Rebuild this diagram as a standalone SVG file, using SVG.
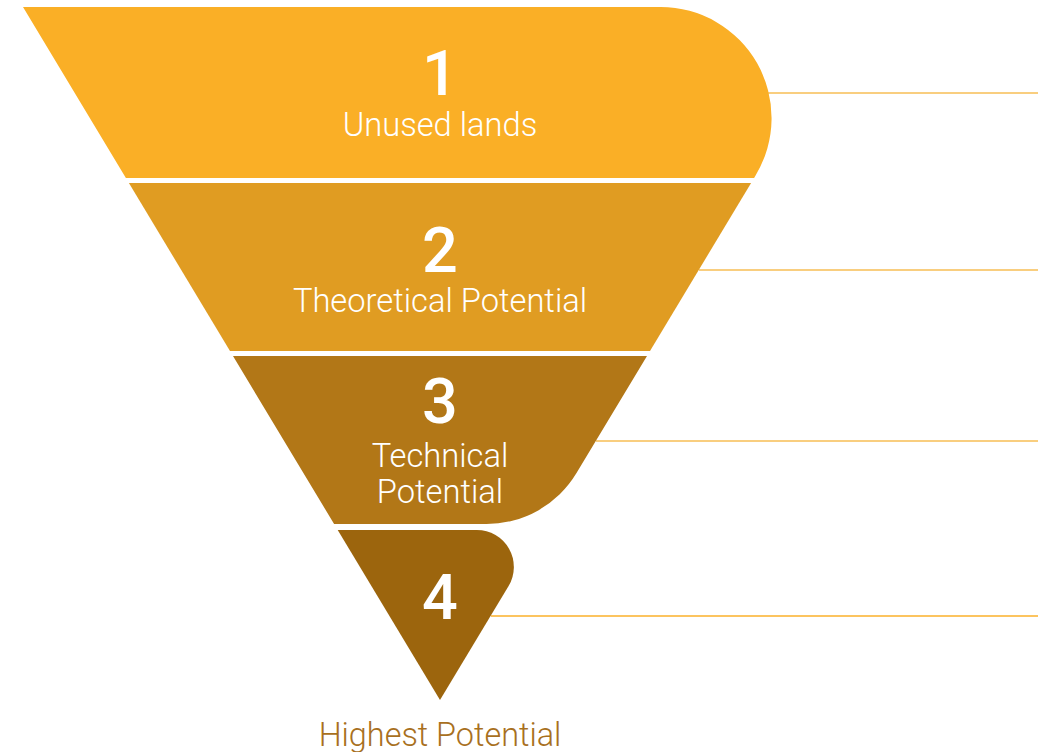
<svg xmlns="http://www.w3.org/2000/svg" width="1038" height="752" viewBox="0 0 1038 752">
<style>
.num{font-family:Roboto,"Liberation Sans",sans-serif;font-weight:500;font-size:63px;fill:#fff;text-anchor:middle}
.lbl{font-family:Roboto,"Liberation Sans",sans-serif;font-weight:300;font-size:32.7px;fill:#fff;text-anchor:middle}
.foot{font-family:Roboto,"Liberation Sans",sans-serif;font-weight:300;font-size:32.4px;fill:#A8701E;text-anchor:middle}
.ln{stroke:#F7BE55;stroke-width:1.4;fill:none}
</style>
<rect width="1038" height="752" fill="#fff"/>
<g id="connectors">
<line class="ln" x1="768" y1="93" x2="1038" y2="93"/>
<line class="ln" x1="699" y1="270" x2="1038" y2="270"/>
<line class="ln" x1="596" y1="441" x2="1038" y2="441"/>
<line class="ln" x1="491" y1="616" x2="1038" y2="616" style="stroke:#FBB02A"/>
</g>
<g id="node1">
<path d="M23,7 L660.6,7 A111,111 0 0 1 755.7,175.2 L754.1,178 L125.9,178 Z" fill="#FAAF26"/>
<text class="num" x="440" y="95">1</text>
<text class="lbl" x="440" y="136">Unused lands</text>
</g>
<g id="node2">
<path d="M128.9,183 L751.1,183 L650,351 L230,351 Z" fill="#E09C22"/>
<text class="num" x="440" y="272">2</text>
<text class="lbl" x="440" y="312">Theoretical Potential</text>
</g>
<g id="node3">
<path d="M233,356 L647,356 L576.5,473.1 A105,105 0 0 1 486.5,524 L334.1,524 Z" fill="#B27717"/>
<text class="num" x="440" y="423">3</text>
<text class="lbl" x="440" y="467">Technical</text>
<text class="lbl" x="440" y="503">Potential</text>
</g>
<g id="node4">
<path d="M337.7,530 L476.9,530 A37,37 0 0 1 508.6,586 L440,700 Z" fill="#9C650D"/>
<text class="num" x="440" y="619">4</text>
</g>
<text class="foot" x="440" y="746">Highest Potential</text>
</svg>
